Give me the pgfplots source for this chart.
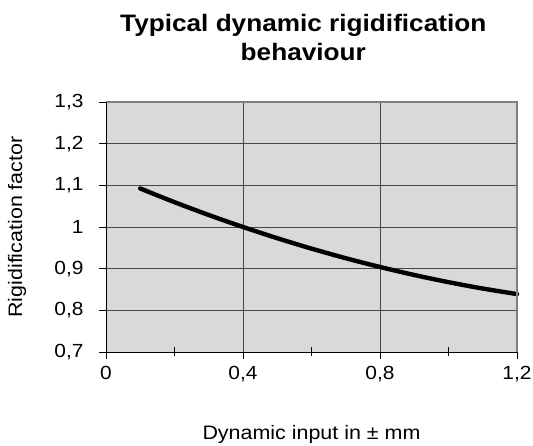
\documentclass[border=0pt]{standalone}
\usepackage{fontspec}
\setmainfont{Liberation Sans}[FakeStretch=1.1]
\usepackage{pgfplots}
\pgfplotsset{compat=1.18}
\definecolor{plotbg}{HTML}{D9D9D9}
\begin{document}
\begin{tikzpicture}
\useasboundingbox (-106pt,-94pt) rectangle (427pt,352pt);
\begin{axis}[
  at={(0,0)}, anchor=south west,
  scale only axis, width=411pt, height=250pt,
  xmin=0, xmax=1.2, ymin=0.7, ymax=1.3,
  xtick={0,0.4,0.8,1.2},
  ytick={0.7,0.8,0.9,1.0,1.1,1.2,1.3},
  extra x ticks={0.2,0.6,1.0},
  extra x tick labels={},
  extra x tick style={grid=none, tick align=center, major tick length=9pt},
  grid=major,
  major grid style={line width=0.6pt, color=black!72},
  axis background/.style={fill=plotbg},
  axis line style={draw=none},
  tick align=outside, tick pos=left,
  major tick length=7pt,
  tick style={black, line width=0.6pt},
  /pgf/number format/assume math mode=true,
  /pgf/number format/use comma,
  ticklabel style={font=\fontsize{19}{20}\selectfont},
  xticklabel style={yshift=-4pt},
  yticklabel style={xshift=-12pt},
  xlabel={Dynamic input in ± mm},
  ylabel={Rigidification factor},
  label style={font=\fontsize{19.5}{20}\selectfont},
  xlabel style={at={(axis description cs:0.5,-0.33)}, anchor=center},
  ylabel style={at={(axis description cs:-0.2165,0.5)}, anchor=center},
  clip=false,
]
\addplot[black, line width=4.4pt, smooth, line cap=round] coordinates {
(0.1,1.0924) (0.2,1.0596) (0.3,1.0288) (0.4,1.0000) (0.5,0.9731) (0.6,0.9481)
(0.7,0.9251) (0.8,0.9040) (0.9,0.8848) (1.0,0.8676) (1.1,0.8523) (1.2,0.8390)
};
\draw[black!50, line width=1.3pt] (rel axis cs:0,1) -- (rel axis cs:1,1) -- (rel axis cs:1,0);
\draw[black, line width=0.9pt] (rel axis cs:0,1) -- (rel axis cs:0,0) -- (rel axis cs:1,0);
\node[align=center, font=\bfseries\fontsize{23.8}{29}\selectfont, anchor=center]
  at (axis description cs:0.48,1.26) {Typical dynamic rigidification\\behaviour};
\end{axis}
\end{tikzpicture}
\end{document}
